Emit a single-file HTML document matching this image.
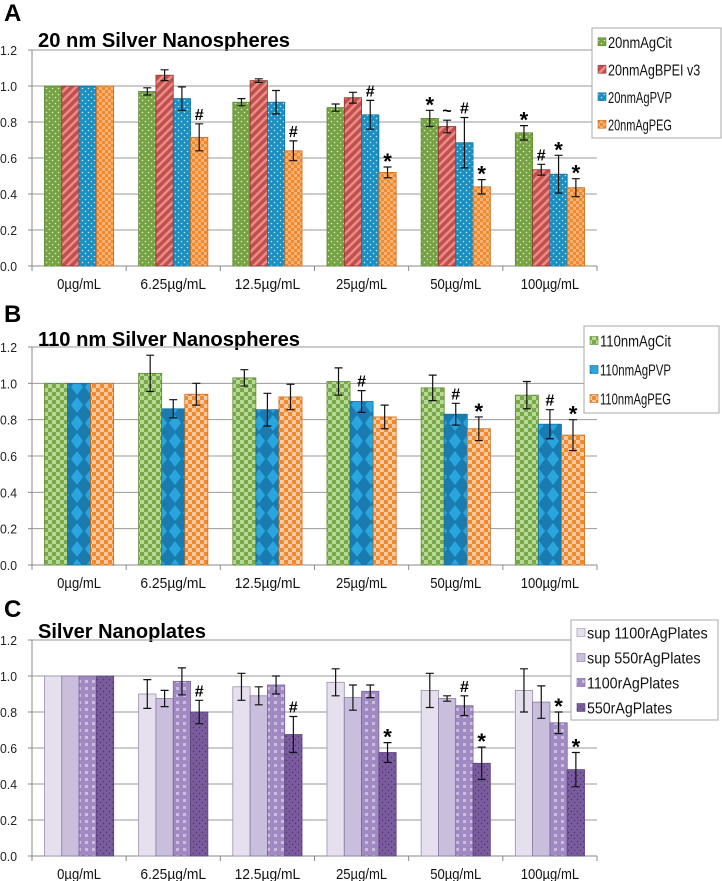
<!DOCTYPE html>
<html><head><meta charset="utf-8">
<style>
body{margin:0;background:#fff;}
svg{display:block;font-family:"Liberation Sans",sans-serif;}
</style></head>
<body>
<svg id="chart" width="722" height="881" viewBox="0 0 722 881">
<defs>
<pattern id="pGreenDot" width="6" height="6" patternUnits="userSpaceOnUse"><rect width="6" height="6" fill="#77a244"/><circle cx="1.5" cy="1.5" r="0.8" fill="#d8ecc4"/><circle cx="4.5" cy="4.5" r="0.8" fill="#d8ecc4"/></pattern>
<pattern id="pRedStripe" width="6" height="6" patternUnits="userSpaceOnUse" patternTransform="rotate(45)"><rect width="6" height="6" fill="#c0504d"/><rect width="2.5" height="6" fill="#eb8c86"/></pattern>
<pattern id="pBlueDot" width="6" height="6" patternUnits="userSpaceOnUse"><rect width="6" height="6" fill="#1b8ec2"/><circle cx="1.5" cy="1.5" r="0.8" fill="#bfe6f6"/><circle cx="4.5" cy="4.5" r="0.8" fill="#bfe6f6"/></pattern>
<pattern id="pOrangeCheck" width="6" height="6" patternUnits="userSpaceOnUse"><rect width="6" height="6" fill="#f08a2f"/><rect width="3" height="3" fill="#f6b275"/><rect x="3" y="3" width="3" height="3" fill="#f6b275"/></pattern>
<pattern id="pGreenCheck" width="8" height="8" patternUnits="userSpaceOnUse"><rect width="8" height="8" fill="#78a848"/><rect width="4" height="4" fill="#b6d998"/><rect x="4" y="4" width="4" height="4" fill="#b6d998"/></pattern>
<pattern id="pBlueDiamond" width="14" height="18" patternUnits="userSpaceOnUse"><rect width="14" height="18" fill="#1a7bb0"/><polygon points="7,1 13,9 7,17 1,9" fill="#2aa6de"/></pattern>
<pattern id="pOrangeCheck2" width="8" height="8" patternUnits="userSpaceOnUse"><rect width="8" height="8" fill="#f08a2f"/><rect width="4" height="4" fill="#fcc9a0"/><rect x="4" y="4" width="4" height="4" fill="#fcc9a0"/></pattern>
<pattern id="pPurpleSq" width="7" height="7" patternUnits="userSpaceOnUse"><rect width="7" height="7" fill="#a18ac2"/><rect x="1" y="1" width="3" height="3" fill="#cbbde0"/></pattern>
<pattern id="pPurpleDot" width="6" height="6" patternUnits="userSpaceOnUse"><rect width="6" height="6" fill="#7a5c9e"/><circle cx="1.5" cy="1.5" r="0.7" fill="#4a3468"/><circle cx="4.5" cy="4.5" r="0.7" fill="#4a3468"/></pattern>
</defs>
</svg>
<script>
const categories = ["0µg/mL","6.25µg/mL","12.5µg/mL","25µg/mL","50µg/mL","100µg/mL"];
const yTicks = ["0.0","0.2","0.4","0.6","0.8","1.0","1.2"];

const aNames = ["20nmAgCit","20nmAgBPEI v3","20nmAgPVP","20nmAgPEG"];
const aCit = [1,0.97,0.91,0.88,0.82,0.74];
const aCitErr = [0,0.02,0.02,0.02,0.045,0.04];
const aBPEI = [1,1.06,1.03,0.935,0.775,0.535];
const aBPEIErr = [0,0.03,0.01,0.03,0.035,0.03];
const aPVP = [1,0.93,0.91,0.84,0.685,0.51];
const aPVPErr = [0,0.065,0.065,0.08,0.14,0.105];
const aPEG = [1,0.715,0.64,0.52,0.44,0.435];
const aPEGErr = [0,0.075,0.055,0.03,0.04,0.05];
const aMarks = [["","","","","*","*"],["","","","","~","#"],["","","","#","#","*"],["","#","#","*","*","*"]];

const bNames = ["110nmAgCit","110nmAgPVP","110nmAgPEG"];
const bCit = [1,1.055,1.03,1.01,0.975,0.935];
const bCitErr = [0,0.1,0.045,0.075,0.07,0.075];
const bPVP = [1,0.86,0.855,0.9,0.83,0.775];
const bPVPErr = [0,0.05,0.09,0.06,0.06,0.08];
const bPEG = [1,0.94,0.925,0.815,0.75,0.715];
const bPEGErr = [0,0.06,0.07,0.065,0.065,0.085];
const bMarks = [["","","","","",""],["","","","#","#","#"],["","","","","*","*"]];

const cNames = ["sup 1100rAgPlates","sup 550rAgPlates","1100rAgPlates","550rAgPlates"];
const cSup1100 = [1,0.9,0.94,0.965,0.92,0.92];
const cSup1100Err = [0,0.08,0.075,0.075,0.095,0.12];
const cSup550 = [1,0.875,0.89,0.88,0.875,0.855];
const cSup550Err = [0,0.045,0.05,0.07,0.015,0.09];
const c1100 = [1,0.97,0.95,0.915,0.835,0.74];
const c1100Err = [0,0.075,0.05,0.035,0.055,0.06];
const c550 = [1,0.8,0.675,0.575,0.515,0.48];
const c550Err = [0,0.065,0.1,0.055,0.09,0.095];
const cMarks = [["","","","","",""],["","","","","",""],["","","","","#","*"],["","#","#","*","*","*"]];

const NS = "http://www.w3.org/2000/svg";
const svg = document.getElementById("chart");
function mk(tag, attrs, parent, text){
  const e = document.createElementNS(NS, tag);
  for (const k in attrs) e.setAttribute(k, attrs[k]);
  if (text !== undefined) e.textContent = text;
  (parent || svg).appendChild(e);
  return e;
}

function panel(cfg){
  const g = mk("g", {});
  
  
  const x0 = 32, x1 = 597, top = cfg.top, bot = cfg.bot;
  const yScale = v => bot - (v / 1.2) * (bot - top);
  const catW = (x1 - x0) / categories.length;
  const xCat = i => x0 + i * catW;
  const letter = mk("text", {x:4, y:cfg.letterY, "font-size":24, "font-weight":"bold"}, g, cfg.letter);
  
  
  const title = mk("text", {x:38, y:cfg.titleY, "font-size":20, "font-weight":"bold", textLength:cfg.titleLen, lengthAdjust:"spacingAndGlyphs"}, g, cfg.title);
  
  
  yTicks.forEach((t, i) => {
    const v = i * 0.2, y = yScale(v);
    if (i > 0) {
      const gl = mk("line", {x1:x0, x2:x1, y1:y, y2:y, stroke:"#9a9a9a", "stroke-width":1}, g);
      
      
    }
    mk("line", {x1:x0-4, x2:x0, y1:y, y2:y, stroke:"#888"}, g);
    const tl = mk("text", {x:0, y:y+5, "font-size":13, fill:"#222", textLength:17, lengthAdjust:"spacingAndGlyphs"}, g, t);
    
    
  });
  mk("line", {x1:x0, x2:x0, y1:top, y2:bot, stroke:"#888"}, g);
  mk("line", {x1:x0, x2:x1, y1:bot, y2:bot, stroke:"#888"}, g);
  categories.forEach((c, i) => {
    mk("line", {x1:xCat(i), x2:xCat(i), y1:bot, y2:bot+5, stroke:"#888"}, g);
    const cl = mk("text", {x:xCat(i)+catW/2, y:bot+23, "font-size":15, "text-anchor":"middle", fill:"#111", textLength:c.length*7.3, lengthAdjust:"spacingAndGlyphs"}, g, c);
    
    
  });
  mk("line", {x1:x1, x2:x1, y1:bot, y2:bot+5, stroke:"#888"}, g);
  const n = cfg.series.length;
  const groupW = catW * 0.735;
  const bw = groupW / n;
  const off = (catW - groupW) / 2;
  cfg.series.forEach((s, si) => {
    s.vals.forEach((v, i) => {
      const bx = xCat(i) + off + si * bw;
      const by = yScale(v);
      const r = mk("rect", {x:bx, y:by, width:bw, height:bot-by, fill:s.fill, stroke:s.stroke, "stroke-width":0.8}, g);
      
      
      const e = s.err[i];
      const cx = bx + bw/2;
      if (e > 0) {
        const yt = yScale(v + e), yb = yScale(v - e);
        const eb = mk("path", {d:`M${cx},${yt}V${yb}M${cx-4},${yt}H${cx+4}M${cx-4},${yb}H${cx+4}`, stroke:"#111", "stroke-width":1.2, fill:"none"}, g);
        
        
      }
      const m = cfg.marks[si][i];
      if (m) {
        const yt = yScale(v + e);
        const mt = mk("text", {x:cx, y:yt - (m === "*" ? -2 : 4), "font-size": m === "*" ? 22 : 16, "font-weight":"bold", "text-anchor":"middle"}, g, m);
        
        
      }
    });
  });
  const L = cfg.legend;
  const lg = mk("g", {}, g);
  
  
  mk("rect", {x:L.x, y:L.y, width:L.w, height:L.h, fill:"#fff", stroke:"#aaa"}, lg);
  const step = L.h / n;
  cfg.series.forEach((s, si) => {
    const cy = L.y + step * (si + 0.5);
    const e = mk("g", {}, lg);
    
    
    mk("rect", {x:L.x+6, y:cy-4, width:8, height:8, fill:s.fill, stroke:s.stroke, "stroke-width":0.6}, e);
    mk("text", {x:L.x+16, y:cy+6, "font-size":16, fill:"#111", textLength:s.name.length*7.1, lengthAdjust:"spacingAndGlyphs"}, e, s.name);
  });
}

panel({id:"a", letter:"A", letterY:21, title:"20 nm Silver Nanospheres", titleY:47, titleLen:252, top:50, bot:266,
  series:[
    {name:aNames[0], vals:aCit, err:aCitErr, fill:"url(#pGreenDot)", stroke:"#5d8a30"},
    {name:aNames[1], vals:aBPEI, err:aBPEIErr, fill:"url(#pRedStripe)", stroke:"#8f3431"},
    {name:aNames[2], vals:aPVP, err:aPVPErr, fill:"url(#pBlueDot)", stroke:"#13729c"},
    {name:aNames[3], vals:aPEG, err:aPEGErr, fill:"url(#pOrangeCheck)", stroke:"#c86c1c"}],
  marks:aMarks, legend:{x:592, y:28, w:129, h:110}});

panel({id:"b", letter:"B", letterY:322, title:"110 nm Silver Nanospheres", titleY:346, titleLen:262, top:347, bot:565,
  series:[
    {name:bNames[0], vals:bCit, err:bCitErr, fill:"url(#pGreenCheck)", stroke:"#5d8a30"},
    {name:bNames[1], vals:bPVP, err:bPVPErr, fill:"url(#pBlueDiamond)", stroke:"#13729c"},
    {name:bNames[2], vals:bPEG, err:bPEGErr, fill:"url(#pOrangeCheck2)", stroke:"#c86c1c"}],
  marks:bMarks, legend:{x:584, y:326, w:135, h:87}});

panel({id:"c", letter:"C", letterY:617, title:"Silver Nanoplates", titleY:638, titleLen:168, top:640, bot:856,
  series:[
    {name:cNames[0], vals:cSup1100, err:cSup1100Err, fill:"#e6e0ee", stroke:"#9b8cb0"},
    {name:cNames[1], vals:cSup550, err:cSup550Err, fill:"#c9bedb", stroke:"#8a78a4"},
    {name:cNames[2], vals:c1100, err:c1100Err, fill:"url(#pPurpleSq)", stroke:"#7a62a0"},
    {name:cNames[3], vals:c550, err:c550Err, fill:"url(#pPurpleDot)", stroke:"#5c4480"}],
  marks:cMarks, legend:{x:571, y:620, w:147, h:100}});
</script>
</body></html>
